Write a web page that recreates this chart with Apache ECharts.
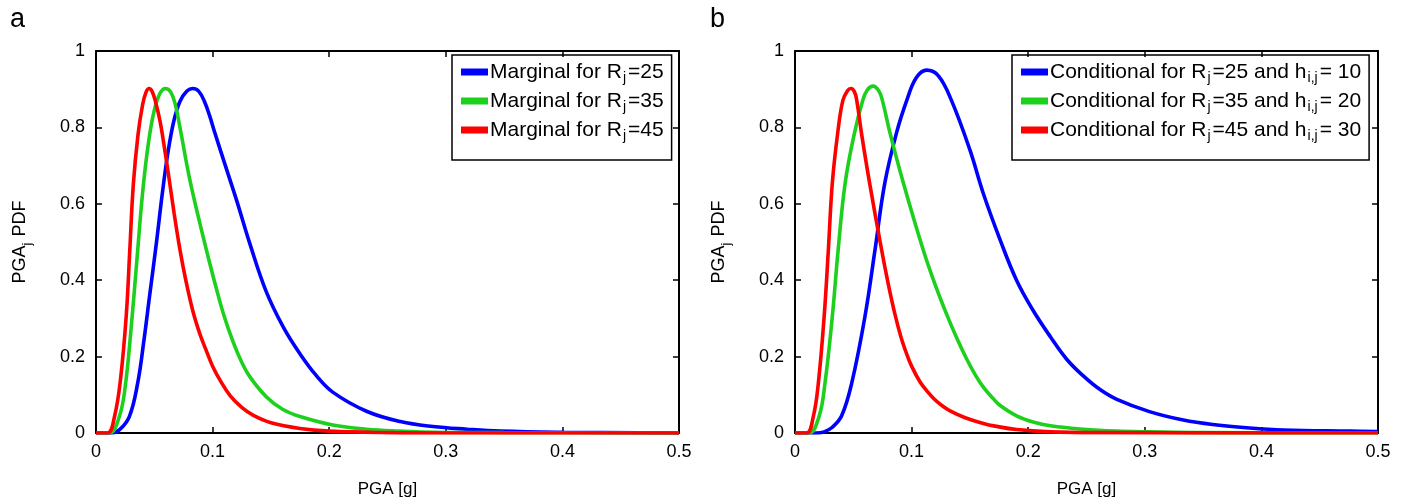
<!DOCTYPE html>
<html>
<head>
<meta charset="utf-8">
<script src="https://cdn.jsdelivr.net/npm/echarts@6/dist/echarts.min.js"></script>
<style>
html,body{margin:0;padding:0;background:#fff;}
#main{width:1408px;height:504px;}
</style>
</head>
<body>
<div id="main"></div>
<script>
// panel a : marginal PDFs
var xMargR25 = [0, 0.013, 0.020, 0.0286, 0.0357, 0.041, 0.046, 0.0515, 0.057, 0.062, 0.067, 0.072, 0.078, 0.083, 0.088, 0.093, 0.0975, 0.1015, 0.112, 0.121, 0.132, 0.146, 0.161, 0.175, 0.189, 0.203, 0.232, 0.261, 0.289, 0.318, 0.347, 0.40, 0.5];
var yMargR25 = [0, 0, 0.008, 0.043, 0.13, 0.24, 0.36, 0.49, 0.63, 0.74, 0.82, 0.868, 0.895, 0.902, 0.895, 0.868, 0.83, 0.79, 0.69, 0.605, 0.495, 0.37, 0.275, 0.207, 0.15, 0.107, 0.057, 0.030, 0.017, 0.010, 0.005, 0.002, 0];
var xMargR35 = [0, 0.0115, 0.020, 0.025, 0.030, 0.035, 0.040, 0.045, 0.050, 0.055, 0.0595, 0.064, 0.068, 0.072, 0.080, 0.089, 0.0975, 0.1035, 0.110, 0.118, 0.125, 0.132, 0.146, 0.160, 0.175, 0.203, 0.232, 0.261, 0.290, 0.35, 0.5];
var yMargR35 = [0, 0, 0.043, 0.12, 0.27, 0.45, 0.63, 0.76, 0.845, 0.89, 0.902, 0.893, 0.86, 0.80, 0.67, 0.55, 0.445, 0.375, 0.305, 0.235, 0.185, 0.147, 0.095, 0.062, 0.043, 0.021, 0.010, 0.005, 0.002, 0.001, 0];
var xMargR45 = [0, 0.010, 0.016, 0.021, 0.026, 0.029, 0.032, 0.036, 0.040, 0.043, 0.0455, 0.048, 0.051, 0.055, 0.058, 0.062, 0.067, 0.072, 0.077, 0.083, 0.089, 0.094, 0.100, 0.107, 0.115, 0.125, 0.135, 0.150, 0.175, 0.200, 0.250, 0.300, 0.5];
var yMargR45 = [0, 0, 0.045, 0.14, 0.31, 0.48, 0.65, 0.78, 0.86, 0.893, 0.902, 0.895, 0.868, 0.815, 0.76, 0.68, 0.575, 0.48, 0.40, 0.32, 0.26, 0.22, 0.175, 0.135, 0.098, 0.067, 0.046, 0.027, 0.012, 0.005, 0.001, 0, 0];

// panel b : conditional PDFs
var xCondR25 = [0, 0.018, 0.025, 0.032, 0.040, 0.0486, 0.060, 0.0686, 0.077, 0.087, 0.096, 0.104, 0.113, 0.123, 0.134, 0.150, 0.1615, 0.176, 0.190, 0.204, 0.219, 0.233, 0.247, 0.261, 0.276, 0.304, 0.333, 0.362, 0.390, 0.419, 0.476, 0.5];
var yCondR25 = [0, 0, 0.003, 0.015, 0.045, 0.13, 0.305, 0.479, 0.654, 0.785, 0.872, 0.93, 0.950, 0.935, 0.872, 0.741, 0.627, 0.505, 0.400, 0.322, 0.252, 0.193, 0.150, 0.115, 0.088, 0.056, 0.034, 0.021, 0.013, 0.008, 0.005, 0.004];
var xCondR35 = [0, 0.012, 0.0206, 0.0257, 0.032, 0.037, 0.043, 0.051, 0.058, 0.062, 0.067, 0.072, 0.075, 0.0815, 0.093, 0.110, 0.120, 0.1315, 0.140, 0.147, 0.155, 0.1615, 0.170, 0.176, 0.190, 0.205, 0.219, 0.247, 0.276, 0.304, 0.35, 0.5];
var yCondR35 = [0, 0, 0.043, 0.13, 0.305, 0.479, 0.654, 0.785, 0.87, 0.898, 0.908, 0.895, 0.87, 0.785, 0.654, 0.479, 0.39, 0.30, 0.24, 0.195, 0.15, 0.12, 0.09, 0.072, 0.045, 0.028, 0.019, 0.010, 0.005, 0.003, 0.001, 0];
var xCondR45 = [0, 0.010, 0.0157, 0.020, 0.025, 0.0286, 0.032, 0.0366, 0.041, 0.045, 0.048, 0.051, 0.053, 0.057, 0.064, 0.0743, 0.080, 0.0858, 0.091, 0.096, 0.100, 0.107, 0.114, 0.120, 0.126, 0.133, 0.146, 0.1615, 0.1715, 0.190, 0.219, 0.26, 0.5];
var yCondR45 = [0, 0, 0.043, 0.13, 0.305, 0.479, 0.654, 0.785, 0.87, 0.896, 0.902, 0.893, 0.87, 0.785, 0.654, 0.479, 0.39, 0.31, 0.25, 0.205, 0.175, 0.135, 0.107, 0.087, 0.072, 0.058, 0.040, 0.025, 0.018, 0.009, 0.003, 0.001, 0];

// series names and legend texts ({s|..} is a subscript)
var namesA = ['Marginal for R_j = 25', 'Marginal for R_j = 35', 'Marginal for R_j = 45'];
var namesB = ['Conditional for R_j = 25 and h_ij = 10', 'Conditional for R_j = 35 and h_ij = 20', 'Conditional for R_j = 45 and h_ij = 30'];
var labelsA = ['Marginal for R{s|j}=25', 'Marginal for R{s|j}=35', 'Marginal for R{s|j}=45'];
var labelsB = ['Conditional for R{s|j}=25 and h{s|i,j}= 10', 'Conditional for R{s|j}=35 and h{s|i,j}= 20', 'Conditional for R{s|j}=45 and h{s|i,j}= 30'];

var colors = ['#0000ff', '#1ed01e', '#ff0000'];
var FONT = 'Liberation Sans, Arial, sans-serif';

function pairs(xs, ys){
	var out = [];
	for (var i = 0; i < xs.length; i++) {
		out.push([xs[i], ys[i]]);
	}
	return out;
}

function xAx(gi, pos){
	var bottom = pos == 'bottom';
	return {
		type: 'value', gridIndex: gi, position: pos,
		min: 0, max: 0.5, interval: 0.1,
		name: bottom ? 'PGA [g]' : '',
		nameLocation: 'middle', nameGap: 48,
		nameTextStyle: {fontFamily: FONT, fontSize: 17, color: '#000'},
		axisLine: {show: true, onZero: false, lineStyle: {color: '#000', width: 2}},
		axisTick: {show: true, inside: true, length: 6, lineStyle: {color: '#000', width: 1.5}},
		axisLabel: {show: bottom, margin: 10, fontFamily: FONT, fontSize: 18, color: '#000'},
		splitLine: {show: false}
	};
}

function yAx(gi, pos){
	var left = pos == 'left';
	return {
		type: 'value', gridIndex: gi, position: pos,
		min: 0, max: 1, interval: 0.2,
		name: left ? '{m|PGA}{s|j}{m| PDF}' : '',
		nameLocation: 'middle', nameGap: 62, nameRotate: 90,
		nameTextStyle: {
			fontFamily: FONT, fontSize: 18, color: '#000',
			rich: {
				m: {fontFamily: FONT, fontSize: 18, color: '#000'},
				s: {fontFamily: FONT, fontSize: 13, color: '#000', padding: [15, 1, 0, 0]}
			}
		},
		axisLine: {show: true, onZero: false, lineStyle: {color: '#000', width: 2}},
		axisTick: {show: true, inside: true, length: 6, lineStyle: {color: '#000', width: 1.5}},
		axisLabel: {show: left, margin: 11, fontFamily: FONT, fontSize: 18, color: '#000'},
		splitLine: {show: false}
	};
}

function legendFor(names, labels, left){
	return {
		left: left, top: 55, orient: 'vertical',
		data: names,
		icon: 'rect', itemWidth: 27, itemHeight: 7, itemGap: 3,
		padding: [4, 8, 17, 9],
		borderColor: '#000', borderWidth: 1.5,
		selectedMode: false,
		formatter: function(name){
			return labels[names.indexOf(name)];
		},
		textStyle: {
			fontFamily: FONT, fontSize: 21, lineHeight: 24, color: '#000', padding: [0, 0, 0, -3],
			rich: {
				s: {fontFamily: FONT, fontSize: 14, lineHeight: 15, color: '#000', padding: [12, 2, 0, 1]}
			}
		}
	};
}

function line(name, data, color, xi, yi){
	return {
		name: name, type: 'line', data: data,
		xAxisIndex: xi, yAxisIndex: yi,
		showSymbol: false, smooth: 0.4,
		lineStyle: {color: color, width: 3.6},
		itemStyle: {color: color},
		z: 3
	};
}

var option = {
	animation: false,
	backgroundColor: '#fff',
	grid: [
		{left: 96, top: 51, width: 583, height: 382},
		{left: 795, top: 51, width: 583, height: 382}
	],
	xAxis: [xAx(0, 'bottom'), xAx(0, 'top'), xAx(1, 'bottom'), xAx(1, 'top')],
	yAxis: [yAx(0, 'left'), yAx(0, 'right'), yAx(1, 'left'), yAx(1, 'right')],
	legend: [
		legendFor(namesA, labelsA, 452),
		legendFor(namesB, labelsB, 1012)
	],
	graphic: [
		{type: 'text', left: 10, top: 6, style: {text: 'a', fontFamily: FONT, fontSize: 27, fill: '#000'}},
		{type: 'text', left: 710, top: 6, style: {text: 'b', fontFamily: FONT, fontSize: 27, fill: '#000'}}
	],
	series: [
		line(namesA[0], pairs(xMargR25, yMargR25), colors[0], 0, 0),
		line(namesA[1], pairs(xMargR35, yMargR35), colors[1], 0, 0),
		line(namesA[2], pairs(xMargR45, yMargR45), colors[2], 0, 0),
		line(namesB[0], pairs(xCondR25, yCondR25), colors[0], 2, 2),
		line(namesB[1], pairs(xCondR35, yCondR35), colors[1], 2, 2),
		line(namesB[2], pairs(xCondR45, yCondR45), colors[2], 2, 2)
	]
};

var myChart = echarts.init(document.getElementById('main'));
myChart.setOption(option);
</script>
</body>
</html>
